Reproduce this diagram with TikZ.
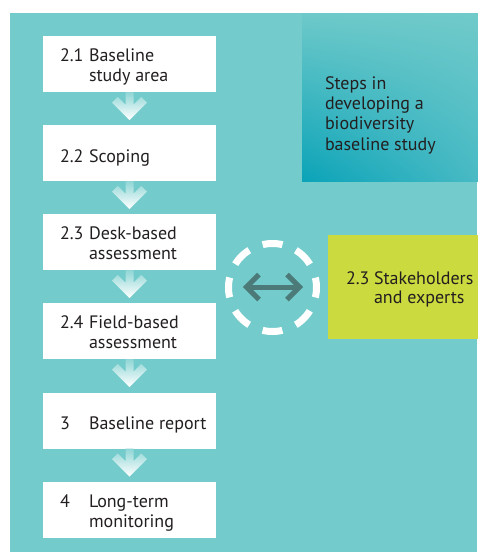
\documentclass[tikz,border=0pt]{standalone}
\usepackage{fontspec}
\setmainfont{PT Sans}
\usetikzlibrary{shadings}
\definecolor{bgteal}{RGB}{115,203,203}
\definecolor{txtgray}{RGB}{35,31,32}
\definecolor{arrowdark}{RGB}{75,122,120}
\definecolor{limegreen}{RGB}{203,218,62}
\definecolor{sqdark}{RGB}{10,163,184}
\definecolor{sqmid}{RGB}{72,186,196}
\definecolor{sqlight}{RGB}{112,202,202}
\newcommand\steparrow[1]{%
  \shade[top color=bgteal!80!white, bottom color=white]
    ([shift={(-4,0)}]#1.south) -- ([shift={(-4,12.7)}]#1.south) --
    ([shift={(-11.8,4.8)}]#1.south) -- ([shift={(-17.5,10.5)}]#1.south) --
    ([shift={(0,28)}]#1.south) -- ([shift={(17.5,10.5)}]#1.south) --
    ([shift={(11.8,4.8)}]#1.south) -- ([shift={(4,12.7)}]#1.south) --
    ([shift={(4,0)}]#1.south) -- cycle;}
\begin{document}
\begin{tikzpicture}[x=1pt,y=-1pt,
  stepbox/.style={fill=white, draw=none, inner sep=0pt, outer sep=0pt,
    minimum width=173pt, minimum height=56pt, anchor=north west},
  lbl/.style={anchor=base west, inner sep=0pt, outer sep=0pt, text=txtgray,
    font=\fontsize{18}{20}\selectfont}]
\useasboundingbox (0,0) rectangle (478,552);
% background
\fill[bgteal] (10,13) rectangle (477,552);
% title square
\shade[upper left=sqlight!95!sqmid, upper right=sqlight, lower left=sqdark, lower right=sqmid]
  (302,13) rectangle (478,181);
\node[lbl] (s1) at (325,89) {Steps in};
\node[lbl] (s2) at (325,109) {developing a};
\node[lbl] (s3) at (325,129) {biodiversity};
\node[lbl] (s4) at (325,150) {baseline study};
% step boxes
\node[stepbox] (b1) at (43,36) {};
\node[stepbox] (b2) at (43,125) {};
\node[stepbox] (b3) at (43,214) {};
\node[stepbox] (b4) at (43,303) {};
\node[stepbox] (b5) at (43,392.5) {};
\node[stepbox] (b6) at (43,482) {};
% arrows
\steparrow{b1}
\steparrow{b2}
\steparrow{b3}
\steparrow{b4}
\steparrow{b5}
% box texts
\node[lbl] (n1) at (60,61) {2.1};
\node[lbl] (l1a) at (89,61) {Baseline};
\node[lbl] (l1b) at (89,81) {study area};
\node[lbl] (n2) at (60,162) {2.2};
\node[lbl] (l2a) at (89,162) {Scoping};
\node[lbl] (n3) at (60,239) {2.3};
\node[lbl] (l3a) at (89,239) {Desk-based};
\node[lbl] (l3b) at (89,259) {assessment};
\node[lbl] (n4) at (60,328) {2.4};
\node[lbl] (l4a) at (89,328) {Field-based};
\node[lbl] (l4b) at (89,348) {assessment};
\node[lbl] (n5) at (60,429) {3};
\node[lbl] (l5a) at (89,429) {Baseline report};
\node[lbl] (n6) at (60,507) {4};
\node[lbl] (l6a) at (89,507) {Long-term};
\node[lbl] (l6b) at (89,527) {monitoring};
% stakeholders box
\fill[limegreen] (328,235) rectangle (478,339);
\node[lbl] (g0) at (346,284) {2.3};
\node[lbl] (g1) at (374,284) {Stakeholders};
\node[lbl] (g2) at (374,303) {and experts};
% dashed circle with double arrow
\coordinate (cc) at (272.5,287.5);
\draw[white, line width=7pt, dash pattern=on 20pt off 14.56pt, dash phase=10pt] (cc) circle (44);
\coordinate (al) at (246.5,287);
\coordinate (ar) at (299.5,287);
\draw[arrowdark, line width=5pt, line join=miter] (al) -- (ar);
\draw[arrowdark, line width=5pt, line join=miter] ([shift={(12.5,-12.5)}]al) -- (al) -- ([shift={(12.5,12.5)}]al);
\draw[arrowdark, line width=5pt, line join=miter] ([shift={(-12.5,-12.5)}]ar) -- (ar) -- ([shift={(-12.5,12.5)}]ar);
\end{tikzpicture}
\end{document}
